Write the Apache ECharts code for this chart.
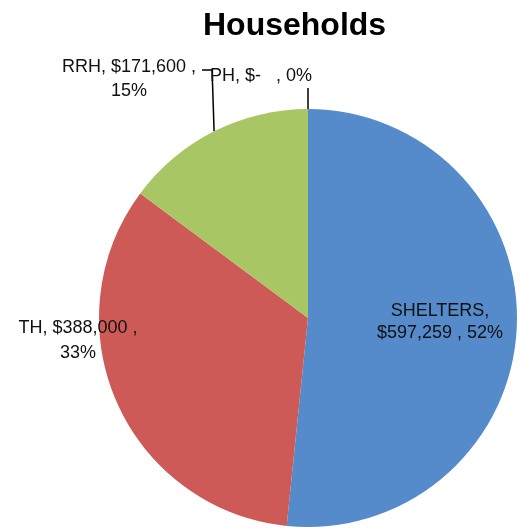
<!DOCTYPE html>
<html>
<head>
<meta charset="utf-8">
<script src="https://cdn.jsdelivr.net/npm/echarts@6/dist/echarts.min.js"></script>
<style>
  html, body { margin: 0; padding: 0; background: #fff; }
  #chart { width: 529px; height: 532px; }
</style>
</head>
<body>
<div id="chart"></div>
<script>
// Funding by program type
const categories = ['SHELTERS', 'TH', 'RRH', 'PH'];
const amounts = [597259, 388000, 171600, 0];
const sliceColors = ['#558ACB', '#CD5A56', '#A9C664', '#8064A2'];
// where each label breaks onto a second line
const labelWrap = ['name', 'amount', 'amount', 'none'];

function money(v) {
  if (v === 0) return '$-  ';
  return '$' + String(v).replace(/\B(?=(\d{3})+(?!\d))/g, ',');
}

function labelText(p) {
  const amt = money(p.value);
  const pct = p.percent + '%';
  const wrap = labelWrap[p.dataIndex];
  if (wrap === 'name') return p.name + ',\n' + amt + ' , ' + pct;
  if (wrap === 'amount') return p.name + ', ' + amt + ' ,\n' + pct;
  return p.name + ', ' + amt + ' , ' + pct;
}

// label anchor points (canvas pixels) and line spacing per slice
const labelSpots = [
  { x: 440, y: 322, lh: 22, inside: true },
  { x: 78, y: 341, lh: 25, inside: true },
  { x: 129, y: 79, lh: 24.5, inside: false },
  { x: 261, y: 76, lh: 20, inside: false }
];

const chart = echarts.init(document.getElementById('chart'), null, { renderer: 'canvas' });

const pieData = categories.map((name, i) => ({
  name: name,
  value: amounts[i],
  itemStyle: { color: sliceColors[i] },
  label: {
    position: labelSpots[i].inside ? 'inside' : 'outside',
    lineHeight: labelSpots[i].lh
  },
  labelLine: { show: !labelSpots[i].inside }
}));

chart.setOption({
  animation: false,
  backgroundColor: '#fff',
  title: {
    text: 'Households',
    left: 203,
    top: 10,
    padding: 0,
    textStyle: {
      fontFamily: 'Liberation Sans',
      fontWeight: 'bold',
      fontSize: 32,
      color: '#000'
    }
  },
  series: [{
    type: 'pie',
    center: [308, 318],
    radius: 209,
    startAngle: 90,
    clockwise: true,
    percentPrecision: 0,
    avoidLabelOverlap: false,
    minShowLabelAngle: 0,
    data: pieData,
    label: {
      show: true,
      formatter: labelText,
      fontFamily: 'Liberation Sans',
      fontSize: 18,
      color: '#111',
      align: 'center'
    },
    labelLine: {
      show: true,
      length: 20,
      length2: 10,
      lineStyle: { color: '#000', width: 1.5 }
    },
    labelLayout: function (params) {
      const spot = labelSpots[params.dataIndex];
      const out = { x: spot.x, y: spot.y, align: 'center', verticalAlign: 'middle' };
      const pts = params.labelLinePoints;
      if (!spot.inside && pts && pts.length) {
        const p0 = pts[0];
        if (params.dataIndex === 2) {
          const anchorY = spot.y - 9;
          const endX = spot.x + params.labelRect.width / 2 + 6;
          out.labelLinePoints = [[p0[0], p0[1]], [p0[0] - 2, anchorY], [endX, anchorY]];
        } else {
          const endY = spot.y + 12;
          out.labelLinePoints = [[p0[0], p0[1]], [p0[0], endY], [p0[0], endY]];
        }
      }
      return out;
    }
  }]
});
</script>
</body>
</html>
